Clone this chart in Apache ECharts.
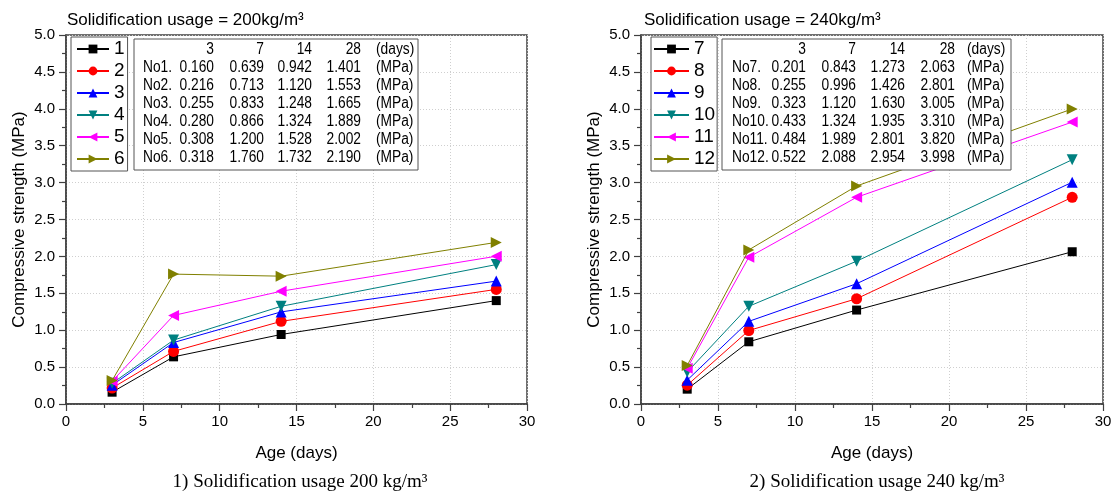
<!DOCTYPE html>
<html>
<head>
<meta charset="utf-8">
<script src="https://cdn.jsdelivr.net/npm/echarts@6/dist/echarts.min.js"></script>
<style>html,body{margin:0;padding:0;background:#fff;}#c{width:1115px;height:497px;}</style>
</head>
<body>
<div id="c"></div>
<script>
// ---- data ----
const days = [3, 7, 14, 28];
const names200 = ['1', '2', '3', '4', '5', '6'];
const names240 = ['7', '8', '9', '10', '11', '12'];
const no1 = [0.160, 0.639, 0.942, 1.401];
const no2 = [0.216, 0.713, 1.120, 1.553];
const no3 = [0.255, 0.833, 1.248, 1.665];
const no4 = [0.280, 0.866, 1.324, 1.889];
const no5 = [0.308, 1.200, 1.528, 2.002];
const no6 = [0.318, 1.760, 1.732, 2.190];
const no7 = [0.201, 0.843, 1.273, 2.063];
const no8 = [0.255, 0.996, 1.426, 2.801];
const no9 = [0.323, 1.120, 1.630, 3.005];
const no10 = [0.433, 1.324, 1.935, 3.310];
const no11 = [0.484, 1.989, 2.801, 3.820];
const no12 = [0.522, 2.088, 2.954, 3.998];
const group200 = [no1, no2, no3, no4, no5, no6];
const group240 = [no7, no8, no9, no10, no11, no12];
const title200 = 'Solidification usage = 200kg/m\u00B3';
const title240 = 'Solidification usage = 240kg/m\u00B3';
const caption200 = '1) Solidification usage 200 kg/m\u00B3';
const caption240 = '2) Solidification usage 240 kg/m\u00B3';
const xName = 'Age (days)';
const yName = 'Compressive strength (MPa)';

// ---- styles ----
const FONT = "'Liberation Sans', Arial, sans-serif";
const SERIF = "'Liberation Serif', 'Times New Roman', serif";
const colors = ['#000000', '#ff0000', '#0000ff', '#008080', '#ff00ff', '#808000'];
const symbols = ['rect', 'circle', 'triangle', 'triangle', 'triangle', 'triangle'];
const rotates = [0, 0, 0, 180, 90, -90];
const sizes = [9, 11, 11, 11, 11, 11];

function makeSeries(name, vals, i, ax) {
  return {
    name: name, type: 'line', xAxisIndex: ax, yAxisIndex: ax,
    data: days.map((d, k) => [d, vals[k]]),
    symbol: symbols[i], symbolRotate: rotates[i], symbolSize: sizes[i],
    showAllSymbol: true,
    itemStyle: { color: colors[i], opacity: 1 },
    lineStyle: { width: 1, color: colors[i] },
    z: 3 + i, animation: false, emphasis: { disabled: true }
  };
}

function xAxisDef(g) {
  return {
    type: 'value', gridIndex: g, min: 0, max: 30, interval: 5,
    name: xName, nameLocation: 'middle', nameGap: 41,
    nameTextStyle: { fontFamily: FONT, fontSize: 17, color: '#000' },
    axisLine: { show: true, lineStyle: { color: '#404040', width: 1.5 } },
    axisTick: { show: true, inside: false, length: 7, lineStyle: { color: '#404040', width: 1.2 } },
    minorTick: { show: true, splitNumber: 2, length: 4, lineStyle: { color: '#404040', width: 1.2 } },
    axisLabel: { fontFamily: FONT, fontSize: 15, color: '#000', margin: 10 },
    splitLine: { show: true, lineStyle: { color: '#cfcfcf', type: [1, 2], width: 1 } }
  };
}
function yAxisDef(g) {
  return {
    type: 'value', gridIndex: g, min: 0, max: 5, interval: 0.5,
    name: yName, nameLocation: 'middle', nameGap: 38,
    nameTextStyle: { fontFamily: FONT, fontSize: 17, color: '#000' },
    axisLine: { show: true, lineStyle: { color: '#404040', width: 1.5 } },
    axisTick: { show: true, inside: false, length: 7, lineStyle: { color: '#404040', width: 1.2 } },
    minorTick: { show: true, splitNumber: 2, length: 4, lineStyle: { color: '#404040', width: 1.2 } },
    axisLabel: { fontFamily: FONT, fontSize: 15, color: '#000', margin: 11, formatter: v => v.toFixed(1) },
    splitLine: { show: true, lineStyle: { color: '#cfcfcf', type: [1, 2], width: 1 } }
  };
}

function legendDef(names, left, itemWidth, padding) {
  return {
    data: names, orient: 'vertical', left: left, top: 37,
    itemWidth: itemWidth, itemHeight: 11, itemGap: 2, padding: padding,
    borderColor: '#555', borderWidth: 1, backgroundColor: '#fff',
    selectedMode: false, z: 20,
    textStyle: { fontFamily: FONT, fontSize: 19, lineHeight: 20, color: '#000' }
  };
}

function tableGraphics(rowNames, group, box, labelX, colRight, unitX) {
  const out = [];
  out.push({ type: 'rect', z: 50, shape: { x: box[0], y: box[1], width: box[2], height: box[3] },
    style: { fill: '#fff', stroke: '#555', lineWidth: 1 } });
  const y0 = box[1] + 11, dy = 18;
  const txt = (s, x, y, align) => ({ type: 'text', z: 51, x: x, y: y, scaleX: 0.86,
    style: { text: s, font: '16px ' + FONT, fill: '#000', textAlign: align, textVerticalAlign: 'middle' } });
  days.forEach((d, k) => out.push(txt(String(d), colRight[k], y0, 'right')));
  out.push(txt('(days)', unitX, y0, 'left'));
  group.forEach((vals, r) => {
    const y = y0 + dy * (r + 1);
    out.push(txt('No' + rowNames[r] + '.', labelX, y, 'left'));
    vals.forEach((v, k) => out.push(txt(v.toFixed(3), colRight[k], y, 'right')));
    out.push(txt('(MPa)', unitX, y, 'left'));
  });
  return out;
}

const series = [];
group200.forEach((v, i) => series.push(makeSeries(names200[i], v, i, 0)));
group240.forEach((v, i) => series.push(makeSeries(names240[i], v, i, 1)));

const graphics = []
  .concat(tableGraphics(names200, group200, [134, 39, 284, 131], 143, [214, 264, 312, 361], 376))
  .concat(tableGraphics(names240, group240, [722, 39, 289, 131], 732, [806, 856, 905, 955], 967));
graphics.push({ type: 'text', z: 51, x: 67, y: 20, style: { text: title200, font: '17px ' + FONT, fill: '#000', textAlign: 'left', textVerticalAlign: 'middle' } });
graphics.push({ type: 'text', z: 51, x: 644, y: 20, style: { text: title240, font: '17px ' + FONT, fill: '#000', textAlign: 'left', textVerticalAlign: 'middle' } });
graphics.push({ type: 'text', z: 51, x: 300, y: 482, style: { text: caption200, font: '19px ' + SERIF, fill: '#000', textAlign: 'center', textVerticalAlign: 'middle' } });
graphics.push({ type: 'text', z: 51, x: 877, y: 482, style: { text: caption240, font: '19px ' + SERIF, fill: '#000', textAlign: 'center', textVerticalAlign: 'middle' } });

const chart = echarts.init(document.getElementById('c'), null, { renderer: 'canvas' });
chart.setOption({
  animation: false,
  backgroundColor: '#fff',
  grid: [
    { left: 66, top: 35, width: 461, height: 369, show: true, borderColor: '#404040', borderWidth: 1.5 },
    { left: 641, top: 35, width: 462, height: 369, show: true, borderColor: '#404040', borderWidth: 1.5 }
  ],
  xAxis: [xAxisDef(0), xAxisDef(1)],
  yAxis: [yAxisDef(0), yAxisDef(1)],
  legend: [legendDef(names200, 71, 32, [2, 3, 2, 5]), legendDef(names240, 651, 35, [2, 2, 2, 2])],
  graphic: graphics,
  series: series
});
</script>
</body>
</html>
